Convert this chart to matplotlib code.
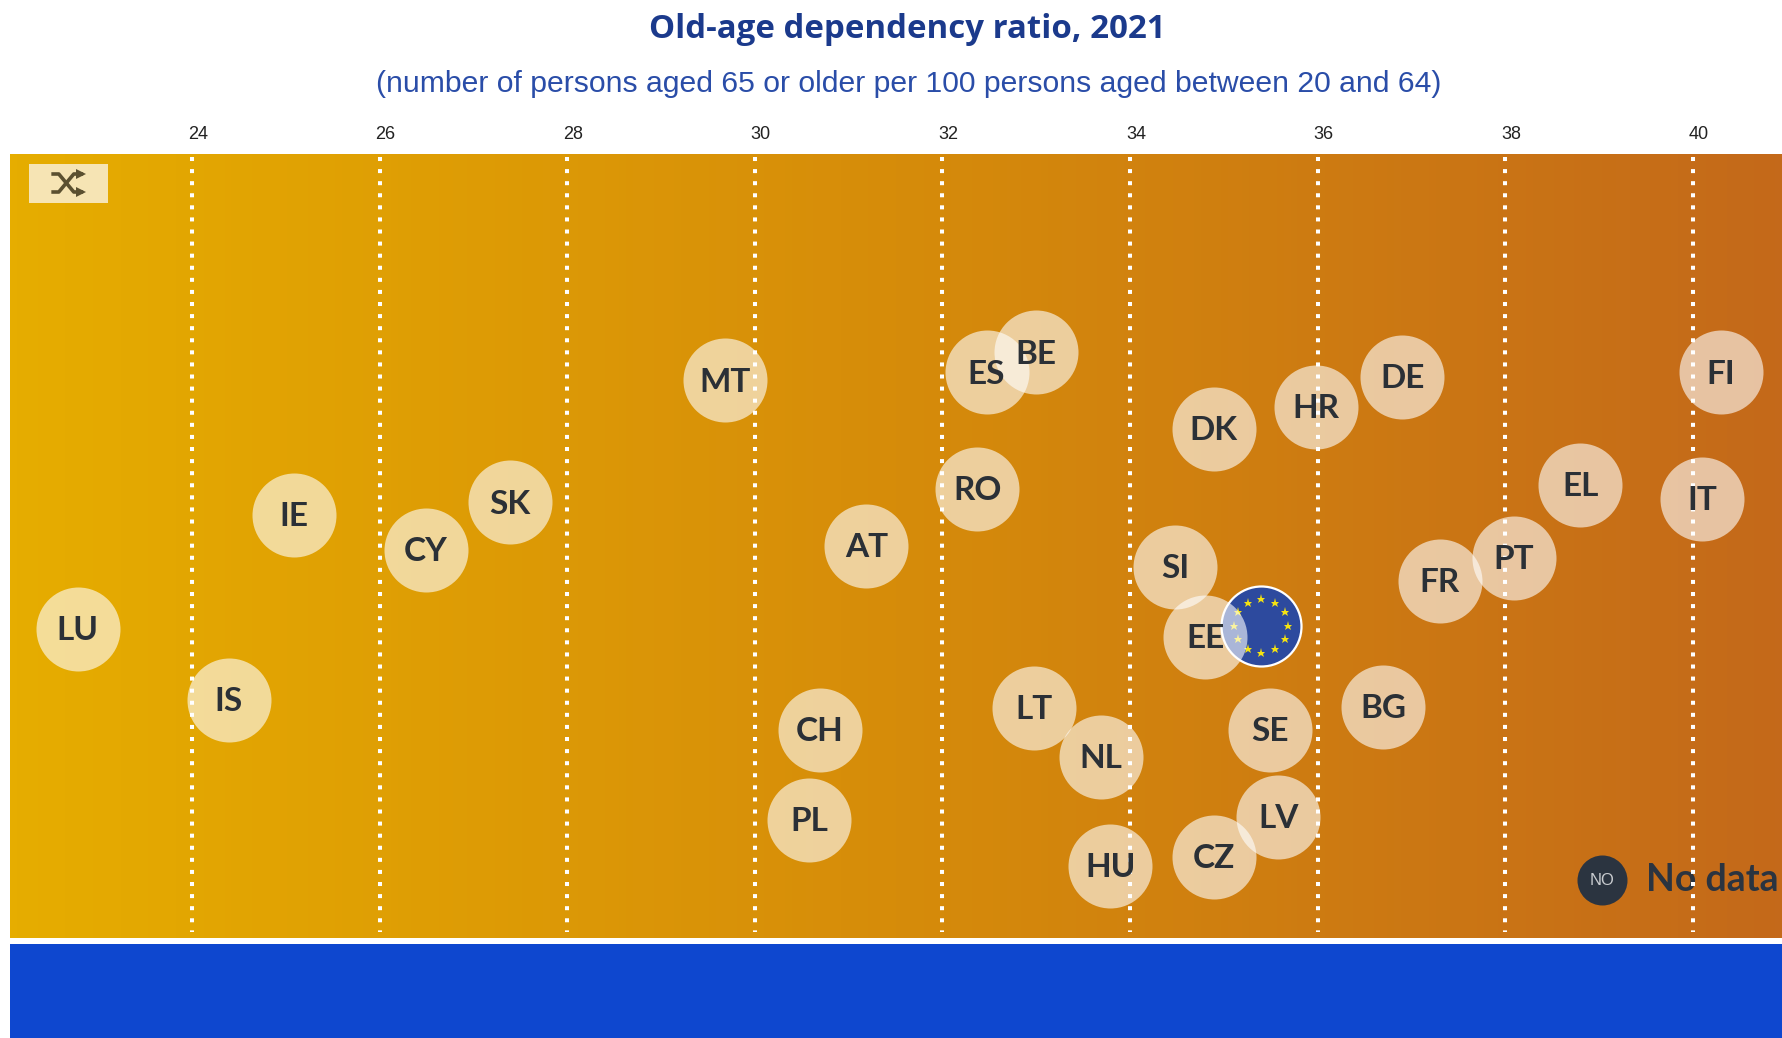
import numpy as np
import matplotlib
matplotlib.use('Agg')
import matplotlib.pyplot as plt
from matplotlib.colors import LinearSegmentedColormap
from matplotlib.patches import Rectangle
from matplotlib.transforms import ScaledTranslation

countries = ['LU', 'IS', 'IE', 'CY', 'SK', 'MT', 'CH', 'PL', 'AT', 'ES', 'BE', 'RO', 'LT', 'NL', 'HU',
             'CZ', 'DK', 'SI', 'EE', 'HR', 'DE', 'SE', 'LV', 'BG', 'FR', 'PT', 'EL', 'IT', 'FI']
ratio = [22.78, 24.39, 25.09, 26.49, 27.39, 29.68, 30.69, 30.58, 31.19, 32.47, 33.0, 32.37, 32.98, 33.69, 33.79,
         34.89, 34.89, 34.48, 34.80, 35.98, 36.90, 35.49, 35.58, 36.70, 37.30, 38.09, 38.80, 40.10, 40.30]
# vertical spread has no meaning in the chart
spread = [629, 700, 515, 550, 502, 380, 730, 820, 546, 372, 352, 489, 708, 757, 866,
          857, 429, 567, 637, 407, 377, 730, 817, 707, 581, 558, 485, 499, 372]
eu_ratio = 35.40
eu_spread = 626
ticks = [24, 26, 28, 30, 32, 34, 36, 38, 40]

W, H = 1782, 1038

fig = plt.figure(figsize=(W / 100, H / 100), dpi=100, facecolor='white')
ax = fig.add_axes([10 / W, (H - 938) / H, (W - 10) / W, 784 / H])

# background gradient
cmap = LinearSegmentedColormap.from_list('bg', ['#e6ad00', '#d68c0a', '#c4691a'])
ax.imshow(np.linspace(0, 1, 256).reshape(1, -1), cmap=cmap, aspect='auto',
          extent=[22.06, 40.95, 938, 154], zorder=0)
ax.set_xlim(22.06, 40.95)
ax.set_ylim(938, 154)

for s in ax.spines.values():
    s.set_visible(False)
ax.set_yticks([])
ax.xaxis.tick_top()
ax.set_xticks(ticks)
ax.tick_params(axis='x', length=0, pad=8, labelsize=13, labelcolor='#222222')
for lab in ax.get_xticklabels():
    lab.set_family('Liberation Sans')
    lab.set_transform(lab.get_transform() + ScaledTranslation(6 / 100, 0, fig.dpi_scale_trans))

# no data legend (sits under the grid lines)
ax.scatter([39.03], [880], s=(50 * 0.72) ** 2, color='#2b3440', linewidths=0, zorder=1)
ax.text(39.03, 881, 'NO', color='#c9ccd0', fontsize=12, ha='center', va='center',
        family='Liberation Sans', zorder=1.5)
ax.text(39.5, 880, 'No data', color='#2b3440', fontsize=27, fontweight='bold', ha='left', va='center',
        family='Lato', zorder=1)

for t in ticks:
    ax.plot([t, t], [157, 932], color='white', lw=2.9, ls=(0, (1, 2)), dash_capstyle='butt', zorder=2)

# EU flag bubble
ax.scatter([eu_ratio], [eu_spread], s=(80 * 0.72) ** 2, color='#2d4a9e', edgecolors='white',
           linewidths=1.6, zorder=3)
ang = np.deg2rad(np.arange(0, 360, 30))
ax.plot(eu_ratio + 27 / 93.8 * np.cos(ang), eu_spread + 27 * np.sin(ang), ls='none', marker='*',
        ms=6.5, color='#f5e311', mew=0, zorder=3.5)

# country bubbles
ax.scatter(ratio, spread, s=(84 * 0.72) ** 2, color='white', alpha=0.6, linewidths=0, zorder=4)
for c, x, y in zip(countries, ratio, spread):
    ax.text(x, y + 2, c, color='#2b3036', fontsize=24, fontweight='bold', ha='center', va='center',
            family='Lato', zorder=5)

# shuffle button
ax.add_patch(Rectangle((22.26, 164), 0.84, 39, facecolor='#f6e4b4', edgecolor='none', zorder=2))
icon = '#5b5030'
ax.plot([22.52, 22.58, 22.74, 22.82], [174, 174, 192, 192], color=icon, lw=2.6, zorder=3)
ax.plot([22.52, 22.58, 22.74, 22.82], [192, 192, 174, 174], color=icon, lw=2.6, zorder=3)
ax.plot([22.82, 22.82], [174, 192], ls='none', marker='>', ms=7, color=icon, mew=0, zorder=3)

# blue band at the bottom
fig.add_artist(Rectangle((10 / W, 0), (W - 10) / W, (H - 944) / H, transform=fig.transFigure,
                         facecolor='#0e47cf', edgecolor='none'))

fig.text(907 / W, 1 - 29 / H, 'Old-age dependency ratio, 2021', color='#1b3a8c', fontsize=23.8,
         fontweight='bold', ha='center', va='center', family='Open Sans')
fig.text(909 / W, 1 - 84 / H, '(number of persons aged 65 or older per 100 persons aged between 20 and 64)',
         color='#2a4da8', fontsize=21.7, ha='center', va='center', family='Liberation Sans')

fig.savefig('out.png', dpi=100)
